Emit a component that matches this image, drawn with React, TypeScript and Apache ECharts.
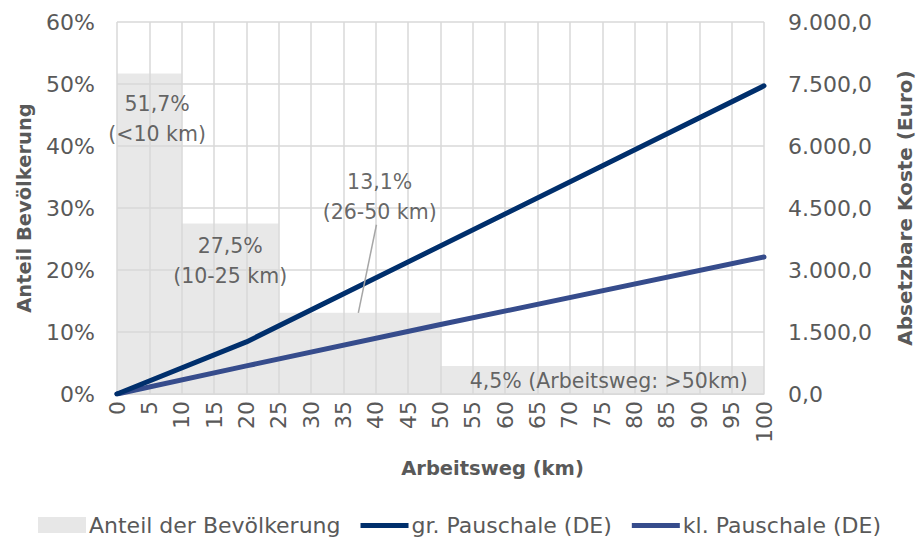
import React, { useEffect, useRef } from "react";
import * as echarts from "echarts";

const bandStarts = [0, 10, 25, 50];
const bandEnd = 100;
const shares = [51.7, 27.5, 13.1, 4.5];
const bandLabels = ["51,7%\n(<10 km)", "27,5%\n(10-25 km)", "13,1%\n(26-50 km)", "4,5% (Arbeitsweg: >50km)"];
const bandLabelPos: [number, number][] = [[6.2, 44.4], [17.5, 21.5], [40.6, 31.8], [76, 2.1]];
const leaderLine: [number, number][] = [[40.1, 27.3], [37.3, 13.1]];

const grKm = [0, 20, 100];
const grEuro = [0, 1260, 7455];
const klKm = [0, 20, 50, 100];
const klEuro = [0, 680, 1680, 3315];

const xTicks = { min: 0, max: 100, interval: 5 };
const leftTicks = { min: 0, max: 60, interval: 10 };
const rightTicks = { min: 0, max: 9000, interval: 1500 };

const seriesNames = ["Anteil der Bevölkerung", "gr. Pauschale (DE)", "kl. Pauschale (DE)"];

function fmtDe(v: number): string {
  const s = Math.round(v).toString();
  const withDots = s.replace(/\B(?=(\d{3})+(?!\d))/g, ".");
  return withDots + ",0";
}

const lineIcon = "path://M0,0L0.01,0L0.01,0.01Z M0,6L48,6L48,11L0,11Z M0,16L0.01,16L0.01,15.99Z";

export default function App() {
  const ref = useRef<HTMLDivElement>(null);
  useEffect(() => {
    if (!ref.current) return;
    const chart = echarts.init(ref.current, undefined, { renderer: "svg" });
    const font = "'DejaVu Sans', sans-serif";
    const tickColor = "#595959";
    const gridColor = "#d9d9d9";

    const areaData: [number, number][] = bandStarts.map((s, i) => [s, shares[i]]);
    areaData.push([bandEnd, shares[shares.length - 1]]);

    chart.setOption({
      animation: false,
      textStyle: { fontFamily: font },
      grid: { left: 117, right: 158, top: 22, bottom: 151, containLabel: false },
      legend: {
        bottom: 4,
        left: 33,
        itemWidth: 48,
        itemHeight: 16,
        itemGap: 20,
        textStyle: { fontSize: 22, color: tickColor, fontFamily: font, padding: [0, 0, 0, -2] },
        data: [
          { name: seriesNames[0], icon: "rect", itemStyle: { color: "#e7e7e7" } },
          { name: seriesNames[1], icon: lineIcon, itemStyle: { color: "#002f6c" } },
          { name: seriesNames[2], icon: lineIcon, itemStyle: { color: "#364c8c" } },
        ],
      },
      xAxis: {
        type: "value",
        ...xTicks,
        name: "Arbeitsweg (km)",
        nameLocation: "middle",
        nameGap: 64,
        nameTextStyle: { fontSize: 19.5, fontWeight: "bold", color: tickColor, padding: [0, 0, 0, 104] },
        axisLine: { show: true, lineStyle: { color: gridColor } },
        axisTick: { show: false },
        axisLabel: { rotate: 90, fontSize: 22, color: tickColor, margin: 7 },
        splitLine: { show: true, lineStyle: { color: gridColor, width: 1.5 } },
      },
      yAxis: [
        {
          type: "value",
          ...leftTicks,
          name: "Anteil Bevölkerung",
          nameLocation: "middle",
          nameGap: 83,
          nameTextStyle: { fontSize: 19.5, fontWeight: "bold", color: tickColor },
          axisLine: { show: false },
          axisTick: { show: false },
          axisLabel: { fontSize: 22, color: tickColor, margin: 22, formatter: (v: number) => v + "%" },
          splitLine: { show: true, lineStyle: { color: gridColor, width: 1.5 } },
        },
        {
          type: "value",
          ...rightTicks,
          name: "Absetzbare Koste (Euro)",
          nameLocation: "middle",
          nameGap: 131,
          nameRotate: 90,
          nameTextStyle: { fontSize: 20, fontWeight: "bold", color: tickColor },
          axisLine: { show: false },
          axisTick: { show: false },
          axisLabel: { fontSize: 22, color: tickColor, margin: 24, formatter: (v: number) => fmtDe(v) },
          splitLine: { show: false },
        },
      ],
      series: [
        {
          name: seriesNames[0],
          type: "line",
          step: "end",
          yAxisIndex: 0,
          z: -1,
          data: areaData,
          symbol: "none",
          lineStyle: { width: 0 },
          itemStyle: { color: "#e7e7e7" },
          areaStyle: { color: "rgba(0,0,0,0.09)", opacity: 1 },
          markLine: {
            silent: true,
            symbol: "none",
            label: { show: false },
            lineStyle: { color: "#a6a6a6", width: 1.5, type: "solid" },
            data: [[{ coord: leaderLine[0] }, { coord: leaderLine[1] }]],
          },
        },
        {
          name: seriesNames[1],
          type: "line",
          yAxisIndex: 1,
          data: grKm.map((k, i) => [k, grEuro[i]]),
          symbol: "none",
          lineStyle: { width: 5, color: "#002f6c", cap: "round" },
          itemStyle: { color: "#002f6c" },
          z: 4,
        },
        {
          name: seriesNames[2],
          type: "line",
          yAxisIndex: 1,
          data: klKm.map((k, i) => [k, klEuro[i]]),
          symbol: "none",
          lineStyle: { width: 5, color: "#364c8c", cap: "round" },
          itemStyle: { color: "#364c8c" },
          z: 3,
        },
        {
          name: "labels",
          type: "scatter",
          yAxisIndex: 0,
          silent: true,
          symbolSize: 0,
          z: 6,
          data: bandLabels.map((t, i) => ({ name: t, value: bandLabelPos[i] })),
          label: {
            show: true,
            position: "inside",
            formatter: (p: any) => p.name,
            fontSize: 20.5,
            lineHeight: 30,
            color: "#404040",
            fontFamily: font,
          },
        },
      ],
    });
    return () => chart.dispose();
  }, []);
  return <div ref={ref} style={{ width: 923, height: 545, position: "absolute", left: 0, top: 0 }} />;
}
